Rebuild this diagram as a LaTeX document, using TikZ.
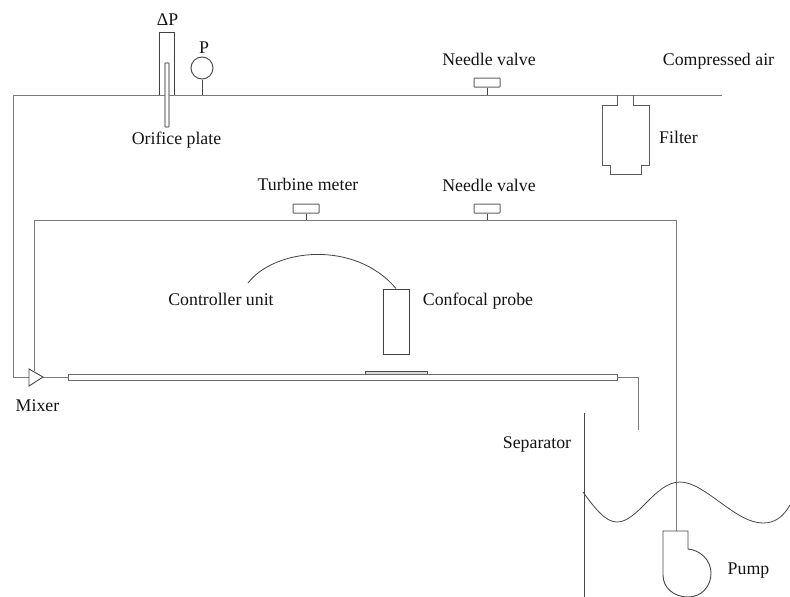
\documentclass[tikz,border=0pt]{standalone}
\usepackage{fontspec}
\setmainfont{Liberation Serif}
\tikzset{
  px/.style={x=1pt,y=-1pt},
  pipeline/.style={draw=black!52,line width=1pt,line join=miter},
  thin line/.style={draw=black!72,line width=0.9pt},
  label text/.style={font=\fontsize{17.8}{20}\selectfont,text=black!92,inner sep=0pt,anchor=base},
  valve box/.style={draw=black!62,line width=1pt,rounded corners=0.5pt,fill=white,minimum width=26pt,minimum height=9pt,inner sep=0pt},
}
\begin{document}
\begin{tikzpicture}[px]
\useasboundingbox (0,0) rectangle (790,597);
% named coordinates
\coordinate (airEnd) at (722,95);
\coordinate (airStart) at (13,95);
\coordinate (airDown) at (13,377);
\coordinate (retL) at (34,220);
\coordinate (retR) at (676,220);
\coordinate (pumpIn) at (676,531);
\coordinate (outA) at (638,377);
\coordinate (outB) at (638,430);
\coordinate (mixerW) at (29,377);
\coordinate (mixerE) at (43,377);
\coordinate (mixerN) at (34,371);
\coordinate (pipeW) at (68,377);
% main air line
\draw[pipeline] (airEnd) -- (airStart) -- (airDown) -- (mixerW);
% return line
\draw[pipeline] (mixerN) -- (retL) -- (retR) -- (pumpIn);
% mixer
\draw[thin line,fill=white,line join=miter] (29,369) -- (43,377) -- (29,386) -- cycle;
\draw[pipeline] (mixerE) -- (pipeW);
% test pipe
\node[draw=black!58,line width=1pt,fill=white,minimum width=549pt,minimum height=6pt,inner sep=0pt] (pipe) at (342.5,377) {};
\draw[pipeline] (pipe.east) -- (outA) -- (outB);
\draw[draw=black!70,line width=1pt,fill=black!15] (365,374) -- (365,371) -- (427,371) -- (427,374);
% dP tube
\draw[draw=black!75,line width=1pt] (159,95) -- (159,32) -- (174,32) -- (174,95);
\node[draw=black!50,line width=1.1pt,fill=white,minimum width=4pt,minimum height=64pt,inner sep=0pt,rounded corners=0.5pt] (orifice) at (167,95) {};
% P gauge
\node[circle,draw=black!68,line width=1pt,minimum size=22pt,inner sep=0pt] (gauge) at (202,68) {};
\coordinate (gaugeFoot) at (202,95);
\draw[thin line] (gauge.south) -- (gaugeFoot);
% valves
\node[valve box] (nv1) at (487,82.5) {};
\coordinate (nv1Foot) at (487,95);
\draw[thin line] (nv1.south) -- (nv1Foot);
\node[valve box] (nv2) at (487,208.5) {};
\coordinate (nv2Foot) at (487,220);
\draw[thin line] (nv2.south) -- (nv2Foot);
\node[valve box] (tm) at (306,208.5) {};
\coordinate (tmFoot) at (306,220);
\draw[thin line] (tm.south) -- (tmFoot);
% filter
\draw[draw=black!65,line width=0.9pt] (617,95) -- (617,105) -- (602,105) -- (602,165) -- (610,165) -- (610,174) -- (641,174) -- (641,165) -- (649,165) -- (649,105) -- (633,105) -- (633,95);
% probe
\node[draw=black!75,line width=1pt,minimum width=26pt,minimum height=65pt,inner sep=0pt] (probe) at (396,321.5) {};
\coordinate (cableEnd) at (248,283);
\draw[draw=black!75,line width=0.8pt] (cableEnd) .. controls (275,248) and (355,240) .. (probe.north);
% separator
\coordinate (sepTop) at (584,413);
\coordinate (sepBot) at (584,597);
\draw[thin line] (sepTop) -- (sepBot);
% liquid surface
\draw[draw=black!72,line width=0.8pt] (583,492) .. controls (596,510) and (606,522) .. (617,522)
  .. controls (638,522) and (655,482) .. (680,482)
  .. controls (705,482) and (735,523) .. (763,523)
  .. controls (775,523) and (783,517) .. (790,505);
% pump
\draw[draw=black!72,line width=0.9pt] (663,531) -- (688,531) -- (688,549)
  .. controls (700,550) and (711,560) .. (711,573)
  .. controls (711,586) and (702,597) .. (688,597)
  .. controls (674,597) and (663,588) .. (663,575) -- cycle;
% labels
\node[label text] (lDP) at (167.5,25) {ΔP};
\node[label text] (lP) at (204,53) {P};
\node[label text] (lOr) at (176.5,144) {Orifice plate};
\node[label text] (lNv1) at (489,65) {Needle valve};
\node[label text] (lAir) at (718.5,65) {Compressed air};
\node[label text] (lFil) at (678.5,143) {Filter};
\node[label text] (lTm) at (308,190) {Turbine meter};
\node[label text] (lNv2) at (489,191) {Needle valve};
\node[label text] (lCu) at (221,305) {Controller unit};
\node[label text] (lCp) at (478,305) {Confocal probe};
\node[label text] (lMx) at (37.5,411) {Mixer};
\node[label text] (lSep) at (537,448) {Separator};
\node[label text] (lPump) at (748.5,574) {Pump};
\end{tikzpicture}
\end{document}
